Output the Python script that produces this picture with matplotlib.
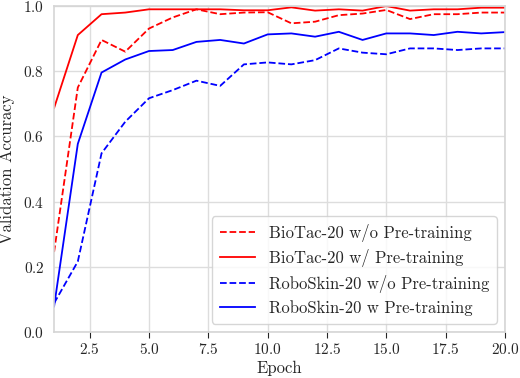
import matplotlib
matplotlib.use('Agg')
import matplotlib.pyplot as plt

epochs = list(range(1, 21))

biotac_wo = [0.245, 0.75, 0.896, 0.86, 0.931, 0.965, 0.99, 0.975, 0.98, 0.981,
             0.947, 0.952, 0.972, 0.977, 0.988, 0.96, 0.975, 0.975, 0.98, 0.98]
biotac_w = [0.687, 0.911, 0.975, 0.98, 0.99, 0.99, 0.99, 0.99, 0.987, 0.987,
            0.996, 0.986, 0.99, 0.986, 1.0, 0.986, 0.99, 0.99, 0.995, 0.995]
roboskin_wo = [0.088, 0.216, 0.548, 0.645, 0.717, 0.742, 0.771, 0.755, 0.821, 0.827,
               0.821, 0.834, 0.87, 0.857, 0.852, 0.87, 0.87, 0.865, 0.87, 0.87]
roboskin_w = [0.078, 0.577, 0.796, 0.836, 0.862, 0.865, 0.89, 0.896, 0.885, 0.913,
              0.916, 0.906, 0.921, 0.896, 0.916, 0.916, 0.911, 0.921, 0.916, 0.92]

labels = ['BioTac-20 w/o Pre-training', 'BioTac-20 w/ Pre-training',
          'RoboSkin-20 w/o Pre-training', 'RoboSkin-20 w Pre-training']

plt.rcParams['font.family'] = ['cmr10', 'DejaVu Serif']
plt.rcParams['axes.formatter.use_mathtext'] = True
plt.rcParams['mathtext.fontset'] = 'cm'
plt.rcParams['text.color'] = '0.15'
plt.rcParams['axes.labelcolor'] = '0.15'
plt.rcParams['xtick.color'] = '0.15'
plt.rcParams['ytick.color'] = '0.15'

fig, ax = plt.subplots(figsize=(5.2, 3.78), dpi=100)

ax.plot(epochs, biotac_wo, 'r--', lw=1.3, label=labels[0])
ax.plot(epochs, biotac_w, 'r-', lw=1.3, label=labels[1])
ax.plot(epochs, roboskin_wo, 'b--', lw=1.3, label=labels[2])
ax.plot(epochs, roboskin_w, 'b-', lw=1.3, label=labels[3])

ax.set_xlim(1, 20)
ax.set_ylim(0, 1.0)
ax.set_xticks([2.5, 5.0, 7.5, 10.0, 12.5, 15.0, 17.5, 20.0])
ax.set_yticks([0.0, 0.2, 0.4, 0.6, 0.8, 1.0])
ax.grid(True, color='#dddddd', lw=1)
ax.set_axisbelow(True)
for s in ax.spines.values():
    s.set_color('#d5d5d5')
    s.set_linewidth(1.2)
ax.tick_params(axis='x', length=4, labelsize=11, pad=3)
ax.tick_params(axis='y', length=0, labelsize=11, pad=7)
ax.set_xlabel('Epoch', fontsize=12, labelpad=3)
ax.set_ylabel('Validation Accuracy', fontsize=12, labelpad=6)

leg = ax.legend(loc='lower right', fontsize=12, frameon=True, handlelength=2.15,
                handletextpad=0.8, borderpad=0.45, labelspacing=0.45)
leg.get_frame().set_edgecolor('#cccccc')

fig.subplots_adjust(left=0.104, right=0.971, top=0.984, bottom=0.122)
fig.savefig('out.png', dpi=100)
